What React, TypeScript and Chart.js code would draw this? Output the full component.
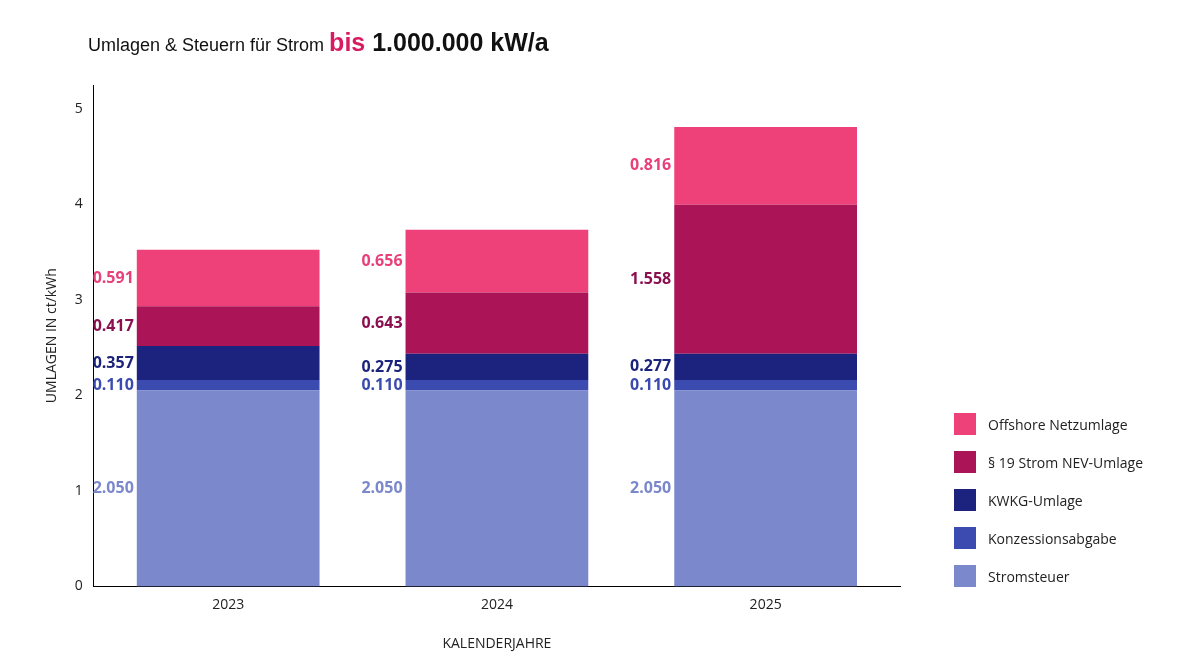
import React, { useEffect, useRef } from "react";
import { Chart, registerables } from "chart.js";
Chart.register(...registerables);

const years = ["2023", "2024", "2025"];
const stromsteuer = [2.05, 2.05, 2.05];
const konzession = [0.11, 0.11, 0.11];
const kwkg = [0.357, 0.275, 0.277];
const nev = [0.417, 0.643, 1.558];
const offshore = [0.591, 0.656, 0.816];
const names = ["Stromsteuer", "Konzessionsabgabe", "KWKG-Umlage", "§ 19 Strom NEV-Umlage", "Offshore Netzumlage"];
const barColors = ["#7b88cc", "#3c4bb0", "#1b237f", "#ab1456", "#ee4079"];
const labelColors = ["#7b88cc", "#3a4aae", "#1b237c", "#8b1050", "#e8407a"];

const labelPlugin = {
  id: "sideLabels",
  afterDatasetsDraw(chart: any) {
    const ctx = chart.ctx;
    ctx.save();
    ctx.font = "bold 16px 'Open Sans'";
    ctx.textAlign = "right";
    ctx.textBaseline = "middle";
    chart.data.datasets.forEach((ds: any, i: number) => {
      const meta = chart.getDatasetMeta(i);
      meta.data.forEach((bar: any, j: number) => {
        ctx.fillStyle = labelColors[i];
        const y = (bar.y + bar.base) / 2;
        ctx.fillText(ds.data[j].toFixed(3), bar.x - bar.width / 2 - 3, y);
      });
    });
    ctx.restore();
  },
};

export default function App() {
  const ref = useRef<HTMLCanvasElement>(null);
  useEffect(() => {
    const series = [stromsteuer, konzession, kwkg, nev, offshore];
    const chart = new Chart(ref.current!, {
      type: "bar",
      data: {
        labels: years,
        datasets: series.map((d, i) => ({
          label: names[i],
          data: d,
          backgroundColor: barColors[i],
          barPercentage: 0.68,
          categoryPercentage: 1,
        })),
      },
      options: {
        animation: false,
        responsive: false,
        layout: { padding: { left: 40, top: 85, right: 300, bottom: 16 } },
        plugins: { legend: { display: false }, tooltip: { enabled: false } },
        scales: {
          x: {
            stacked: true,
            grid: { display: false, drawTicks: false },
            border: { color: "#000" },
            ticks: { color: "#222", font: { family: "'Open Sans'", size: 14 }, padding: 10 },
            title: { display: true, text: "KALENDERJAHRE", color: "#222", font: { family: "'Open Sans'", size: 14 }, padding: { top: 12 } },
          },
          y: {
            stacked: true,
            min: 0,
            max: 5.25,
            grid: { display: false, drawTicks: true, tickLength: 5 },
            border: { color: "#000" },
            afterBuildTicks: (ax: any) => { ax.ticks = [0, 1, 2, 3, 4, 5].map((v) => ({ value: v })); },
            ticks: { color: "#222", font: { family: "'Open Sans'", size: 14 }, padding: 6 },
            title: { display: true, text: "UMLAGEN IN ct/kWh", color: "#222", font: { family: "'Open Sans'", size: 14 }, padding: { bottom: 8 } },
          },
        },
      },
      plugins: [labelPlugin],
    });
    return () => chart.destroy();
  }, []);
  const legend = [...names].reverse().map((n, k) => (
    <div key={n} style={{ display: "flex", alignItems: "center", height: 38 }}>
      <div style={{ width: 22, height: 22, background: barColors[4 - k], marginRight: 12 }} />
      <span style={{ fontSize: 14, color: "#222" }}>{n}</span>
    </div>
  ));
  return (
    <div style={{ position: "fixed", left: 0, top: 0, width: 1200, height: 672, background: "#fff", fontFamily: "'Open Sans'" }}>
      <canvas ref={ref} width={1200} height={672} style={{ position: "absolute", left: 0, top: 0 }} />
      <div style={{ position: "absolute", left: 88, top: 28, whiteSpace: "nowrap", color: "#111" }}>
        <span style={{ fontSize: 18, fontFamily: "Arial, 'Liberation Sans'" }}>Umlagen &amp; Steuern für Strom </span>
        <span style={{ fontSize: 25, fontWeight: "bold", color: "#d81b60", fontFamily: "Arial, 'Liberation Sans'" }}>bis</span>
        <span style={{ fontSize: 25, fontWeight: "bold", fontFamily: "Arial, 'Liberation Sans'" }}> 1.000.000 kW/a</span>
      </div>
      <div style={{ position: "absolute", left: 954, top: 405 }}>{legend}</div>
    </div>
  );
}
